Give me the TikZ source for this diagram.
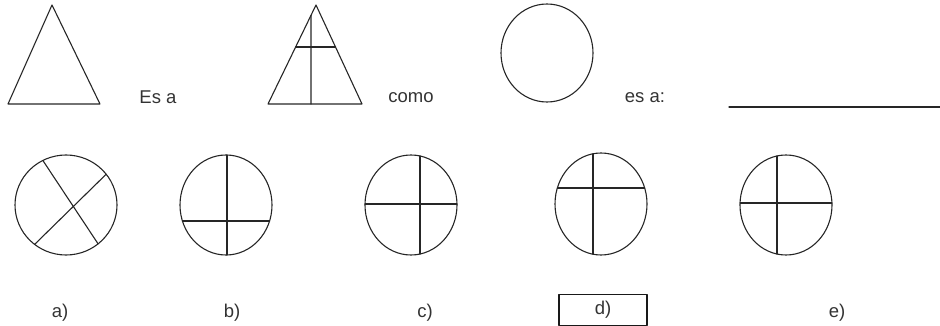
\documentclass[tikz,border=0pt]{standalone}
\usepackage{fontspec}
\setmainfont{Liberation Sans}
\usetikzlibrary{calc}
\begin{document}
\begin{tikzpicture}[x=1pt,y=-1pt,line cap=round,line join=round,line width=1.1pt,
  every node/.style={font=\fontsize{18.5}{20}\selectfont,inner sep=0pt,text=black!80}]
\useasboundingbox (0,0) rectangle (940,326);
\tikzset{fig/.style={draw=black!85}}

% fila de arriba
\coordinate (A1) at (52,5);
\coordinate (B1) at (8,104);
\coordinate (C1) at (100,104);
\draw[fig] (A1)--(B1)--(C1)--cycle;

\coordinate (A2) at (316,5);
\coordinate (B2) at (268,104);
\coordinate (C2) at (362,104);
\draw[fig] (A2)--(B2)--(C2)--cycle;
\draw[fig] ($(A2)!0.104!(B2)$) -- ($(B2)!0.457!(C2)$);
\draw[fig] ($(A2)!0.424!(B2)$) -- ($(A2)!0.424!(C2)$);

\coordinate (O) at (547,53);
\draw[fig] (O) ellipse [x radius=46,y radius=49];

\node (esa) at (158,97) {Es a};
\node (como) at (411,98) {como};
\node (esa2) at (645,98) {es a:};

\coordinate (L1) at (729,107);
\coordinate (L2) at (940,107);
\draw[fig] (L1)--(L2);

% opciones
\coordinate (ca) at (66,205);
\coordinate (cb) at (226,205);
\coordinate (cc) at (411,205);
\coordinate (cd) at (601,204);
\coordinate (ce) at (786,205);

\draw[fig] (ca) ellipse [x radius=51,y radius=50];
\draw[fig] ([shift={(-117:51 and 50)}]ca) -- ([shift={(51:51 and 50)}]ca);
\draw[fig] ([shift={(128:51 and 50)}]ca) -- ([shift={(-38:51 and 50)}]ca);

\draw[fig] (cb) ellipse [x radius=46,y radius=50];
\draw[fig] ($(cb)+(1,-50)$) -- ($(cb)+(1,50)$);
\draw[fig] ($(cb)+(-43.6,16)$) -- ($(cb)+(43.6,16)$);

\draw[fig] (cc) ellipse [x radius=46,y radius=50];
\draw[fig] ($(cc)+(9,-49)$) -- ($(cc)+(9,49)$);
\draw[fig] ($(cc)+(-46,-1)$) -- ($(cc)+(46,-1)$);

\draw[fig] (cd) ellipse [x radius=46,y radius=51];
\draw[fig] ($(cd)+(-8,-50.2)$) -- ($(cd)+(-8,50.2)$);
\draw[fig] ($(cd)+(-43.7,-16)$) -- ($(cd)+(43.7,-16)$);

\draw[fig] (ce) ellipse [x radius=46,y radius=50];
\draw[fig] ($(ce)+(-9,-49)$) -- ($(ce)+(-9,49)$);
\draw[fig] ($(ce)+(-46,-2)$) -- ($(ce)+(46,-2)$);

\node (la) at (60,313) {a)};
\node (lb) at (232,313) {b)};
\node (lc) at (425,313) {c)};
\node[draw=black!90,minimum width=88pt,minimum height=31pt] (ld) at (603,310) {d)};
\node (le) at (837,313) {e)};
\end{tikzpicture}
\end{document}
